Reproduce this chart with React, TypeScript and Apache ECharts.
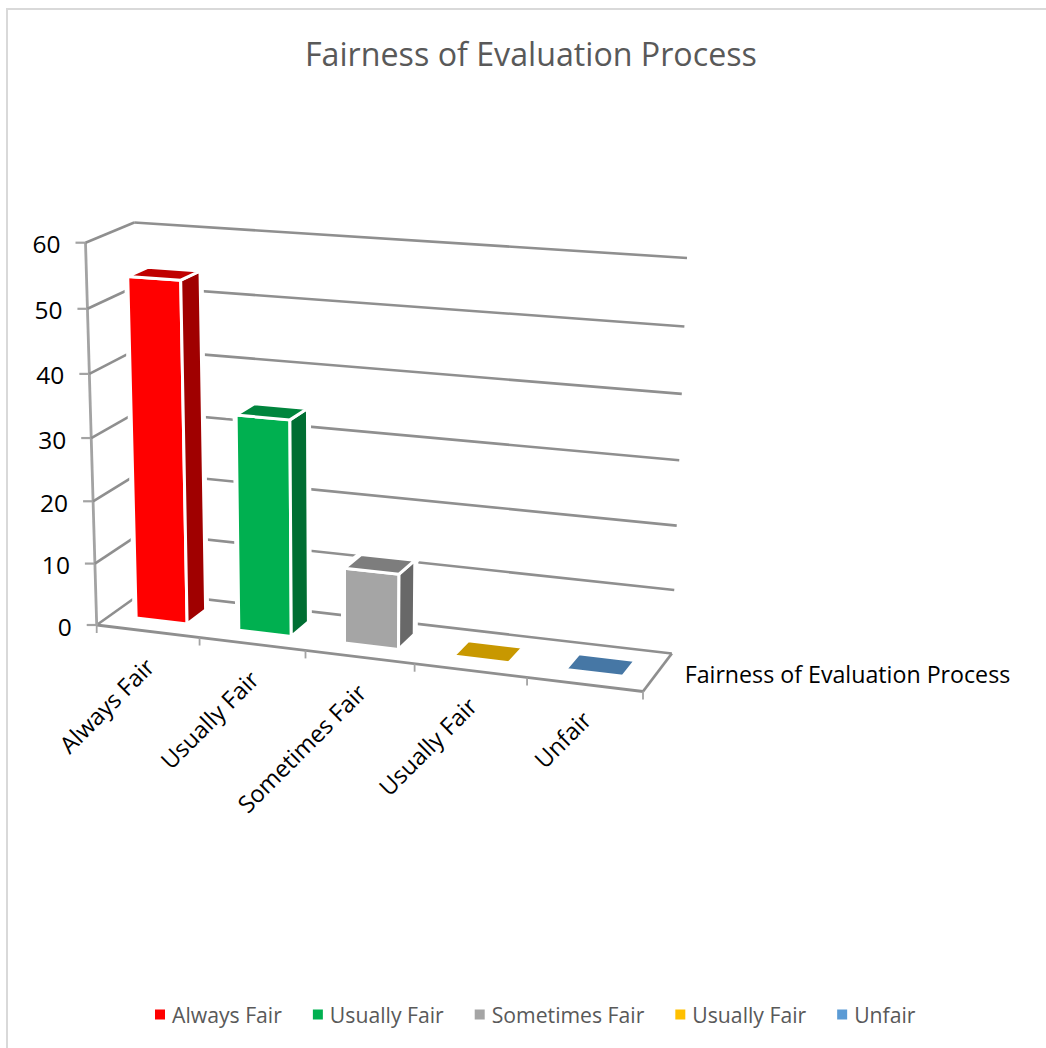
import React, { useEffect, useRef } from "react";
import * as echarts from "echarts";

const titleText = "Fairness of Evaluation Process";
const categories = ["Always Fair", "Usually Fair", "Sometimes Fair", "Usually Fair", "Unfair"];
const seriesNames = ["Always Fair", "Usually Fair", "Sometimes Fair", "Usually Fair\u200b", "Unfair"];
const values = [54.2, 34.2, 11.9, 0, 0];
const yTicks = [0, 10, 20, 30, 40, 50, 60];
const frontColors = ["#FF0000", "#00B050", "#A5A5A5", "#FFC000", "#5B9BD5"];
const sideColors = ["#A00000", "#006E32", "#686868", "#A07800", "#396186"];
const topColors = ["#C00000", "#00853D", "#7D7D7D", "#C89800", "#4677A5"];

const FONT = "'Open Sans', sans-serif";
const GRID = "#8f8f8f";
const AXIS = "#a3a3a3";

// camera: homogeneous basis from the box's corners
const O = [96.7, 625];
const X = [643, 691.5];
const Y = [85.5, 242.7];
const Z = [143, 592];
const ku = 0.928, kv = 0.957, kw = 1.037;

function project(u: number, v: number, w: number): number[] {
  const d = 1 + u * (ku - 1) + v * (kv - 1) + w * (kw - 1);
  return [0, 1].map(
    (i) => (O[i] + u * (ku * X[i] - O[i]) + v * (kv * Y[i] - O[i]) + w * (kw * Z[i] - O[i])) / d
  );
}

function norm(params: any, c: number[]) {
  const cs = params.coordSys;
  return [(c[0] - cs.x) / cs.width, 1 - (c[1] - cs.y) / cs.height];
}

function line(a: number[], b: number[], stroke: string, lineWidth = 2.6) {
  return {
    type: "line",
    shape: { x1: a[0], y1: a[1], x2: b[0], y2: b[1] },
    style: { stroke, lineWidth },
  };
}

const BAR_W0 = 0.3;
const BAR_W1 = 0.72;
const BAR_HALF = 0.25;

function renderBar(i: number) {
  return (params: any, api: any) => {
    const c = api.coord([api.value(0), api.value(1)]);
    const [uc, v] = norm(params, c);
    const halfU = (BAR_HALF * api.size([1, 0])[0]) / params.coordSys.width;
    const u0 = uc - halfU;
    const u1 = uc + halfU;
    const front = [project(u0, 0, BAR_W0), project(u1, 0, BAR_W0), project(u1, v, BAR_W0), project(u0, v, BAR_W0)];
    const side = [project(u1, 0, BAR_W0), project(u1, 0, BAR_W1), project(u1, v, BAR_W1), project(u1, v, BAR_W0)];
    const top = [project(u0, v, BAR_W0), project(u1, v, BAR_W0), project(u1, v, BAR_W1), project(u0, v, BAR_W1)];
    const children: any[] = [];
    if (v > 0) {
      [front, side, top].forEach((points) =>
        children.push({ type: "polygon", shape: { points }, style: { fill: "#fff", stroke: "#fff", lineWidth: 7 } })
      );
      children.push({ type: "polygon", shape: { points: front }, style: { fill: frontColors[i], stroke: "#fff", lineWidth: 3 } });
      children.push({ type: "polygon", shape: { points: side }, style: { fill: sideColors[i], stroke: "#fff", lineWidth: 3 } });
    }
    children.push({
      type: "polygon",
      shape: { points: top },
      style: { fill: topColors[i], stroke: "#fff", lineWidth: 3 },
    });
    return { type: "group", children };
  };
}

function renderY(params: any, api: any) {
  const t = api.value(1);
  const [, v] = norm(params, api.coord([0, t]));
  const a = project(0, v, 0);
  const b = project(0, v, 1);
  const r = project(1, v, 1);
  const children: any[] = [
    line([a[0] - 10, a[1]], a, AXIS, 2.2),
    line(a, b, GRID),
    line(b, r, GRID),
    {
      type: "text",
      x: a[0] - 25,
      y: a[1] + 1,
      style: { text: String(t), fill: "#000", fontSize: 24.5, fontFamily: FONT, align: "right", verticalAlign: "middle" },
    },
  ];
  if (t === yTicks[0]) {
    children.push(line(project(0, 0, 0), project(1, 0, 0), GRID, 2.8));
    children.push(line(project(1, 0, 0), project(1, 0, 1), GRID, 2.8));
    children.push(line(project(0, 0, 0), project(0, 1, 0), AXIS, 2.8));
    const e = project(1, 0, 0.5);
    children.push({
      type: "text",
      x: e[0] + 27,
      y: e[1] + 2,
      style: { text: titleText, fill: "#000", fontSize: 23.2, fontFamily: FONT, align: "left", verticalAlign: "middle" },
    });
  }
  return { type: "group", children };
}

function renderCategory(params: any, api: any) {
  const idx = api.value(0);
  const [uc] = norm(params, api.coord([idx, 0]));
  const halfU = (0.5 * api.size([1, 0])[0]) / params.coordSys.width;
  const p = project(uc, 0, 0);
  const l = project(uc - halfU, 0, 0);
  const children: any[] = [
    line(l, [l[0], l[1] + 8], AXIS, 1.8),
    {
      type: "text",
      x: p[0] + 2,
      y: p[1] + 31,
      rotation: Math.PI / 4,
      style: { text: categories[idx], fill: "#000", fontSize: 23.6, fontFamily: FONT, align: "right", verticalAlign: "middle" },
    },
  ];
  if (idx === categories.length - 1) {
    const r = project(uc + halfU, 0, 0);
    children.push(line(r, [r[0], r[1] + 8], AXIS, 1.8));
  }
  return { type: "group", children };
}

export default function App() {
  const ref = useRef<HTMLDivElement>(null);
  useEffect(() => {
    const chart = echarts.init(ref.current!, null, { renderer: "svg" });
    chart.setOption({
      animation: false,
      backgroundColor: "#fff",
      title: {
        text: titleText,
        left: 300,
        top: 32,
        textStyle: { color: "#595959", fontSize: 32.2, fontWeight: "normal", fontFamily: FONT },
      },
      grid: { left: 96, top: 243, width: 547, height: 384, show: false },
      xAxis: { type: "category", data: categories.map((_, i) => i), show: false },
      yAxis: { type: "value", min: 0, max: 60, interval: 10, show: false },
      legend: {
        left: 150,
        top: 999,
        icon: "rect",
        itemWidth: 10,
        itemHeight: 10,
        itemGap: 31,
        data: seriesNames,
        formatter: (n: string) => n.replace("\u200b", ""),
        textStyle: { color: "#595959", fontSize: 21.2, fontFamily: FONT, padding: [0, 0, 0, 2] },
        selectedMode: false,
      },
      graphic: [
        {
          type: "rect",
          shape: { x: 7, y: 9, width: 1200, height: 1200 },
          style: { fill: "none", stroke: "#d9d9d9", lineWidth: 2 },
          silent: true,
          z: 0,
        },
      ],
      series: [
        {
          type: "custom",
          name: "axes",
          silent: true,
          clip: false,
          z: 1,
          data: yTicks.map((t) => [0, t]),
          encode: { x: 0, y: 1 },
          renderItem: renderY,
        },
        {
          type: "custom",
          name: "categories",
          silent: true,
          clip: false,
          z: 1,
          data: categories.map((_, i) => [i, 0]),
          encode: { x: 0, y: 1 },
          renderItem: renderCategory,
        },
        ...values.map((val, i) => ({
          type: "custom",
          name: seriesNames[i],
          silent: true,
          clip: false,
          z: 2 + i,
          itemStyle: { color: frontColors[i] },
          data: [[i, val]],
          encode: { x: 0, y: 1 },
          renderItem: renderBar(i),
        })),
      ],
    });
    return () => chart.dispose();
  }, []);
  return <div ref={ref} style={{ position: "absolute", left: 0, top: 0, width: 1046, height: 1048 }} />;
}
